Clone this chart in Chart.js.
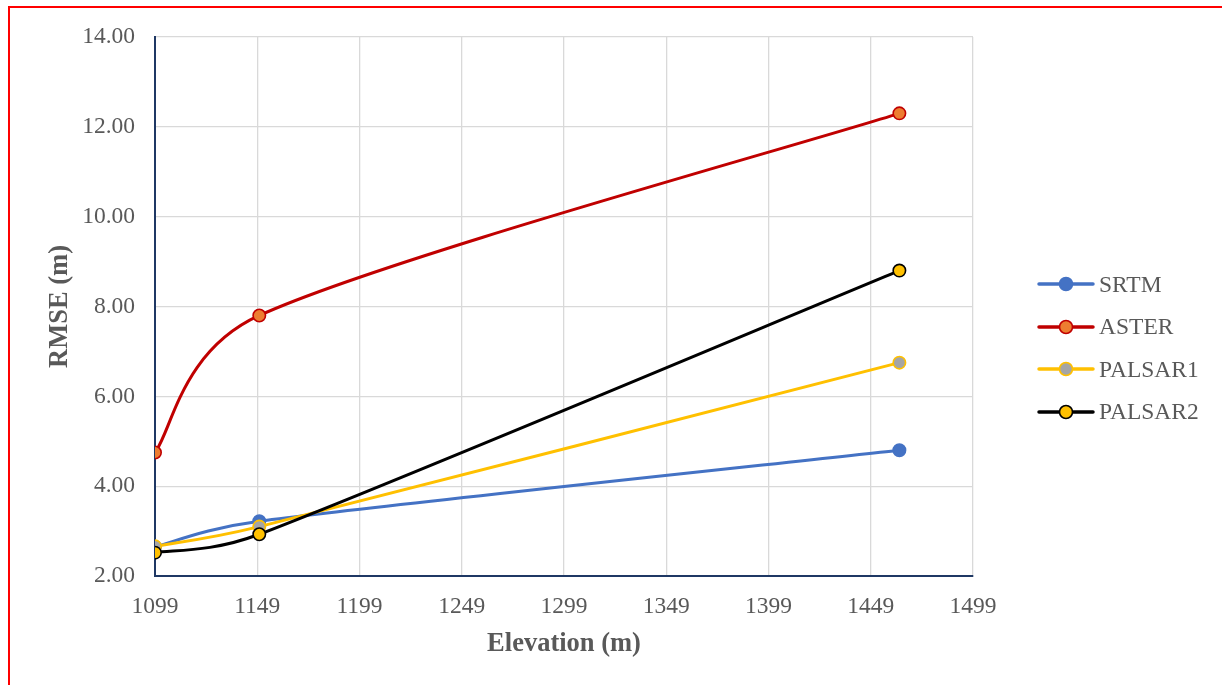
<!DOCTYPE html>
<html>
<head>
<meta charset="utf-8">
<script src="https://cdn.jsdelivr.net/npm/chart.js@4"></script>
<style>
  html, body { margin: 0; padding: 0; background: #fff; overflow: hidden; }
  #wrap { position: relative; width: 1222px; height: 685px; }
  #frame { position: absolute; left: 8px; top: 6px; width: 1400px; height: 900px; border: 2px solid #ff0000; box-sizing: border-box; }
  canvas { position: absolute; left: 0; top: 0; }
  #legend { position: absolute; left: 1037px; top: 263px; font-family: "Liberation Serif", "Times New Roman", serif; font-size: 23.5px; color: #595959; }
  #legend .item { display: flex; align-items: center; height: 42.5px; }
  #legend svg { margin-right: 4px; }
</style>
</head>
<body>
<div id="wrap">
  <div id="frame"></div>
  <canvas id="grafico" width="1222" height="685"></canvas>
  <div id="legend"></div>
</div>
<script>
// dados
const elevacao = [1099, 1150, 1463];
const srtm = [2.65, 3.22, 4.80];
const aster = [4.75, 7.80, 12.30];
const palsar1 = [2.66, 3.10, 6.75];
const palsar2 = [2.52, 2.93, 8.80];
const xTicks = [1099, 1149, 1199, 1249, 1299, 1349, 1399, 1449, 1499];

const FONTE = '"Liberation Serif", "Times New Roman", serif';
const CINZA = '#595959';
const EIXO = '#1f3864';

const series = [
  { label: 'SRTM', data: srtm, line: '#4472c4', fill: '#4472c4', edge: '#4472c4', order: 3 },
  { label: 'ASTER', data: aster, line: '#c00000', fill: '#ed7d31', edge: '#c00000', order: 2 },
  { label: 'PALSAR1', data: palsar1, line: '#ffc000', fill: '#a5a5a5', edge: '#ffc000', order: 1 },
  { label: 'PALSAR2', data: palsar2, line: '#000000', fill: '#ffc000', edge: '#000000', order: 0 }
];

// suavização parecida com a do Excel (Catmull-Rom 1/6, limitada a meia corda)
const suaviza = {
  id: 'suaviza',
  beforeDatasetsDraw(chart) {
    chart.getSortedVisibleDatasetMetas().forEach(meta => {
      meta.dataset.updateControlPoints(chart.chartArea);
      const p = meta.data;
      const n = p.length;
      for (let i = 0; i < n; i++) {
        const a = p[Math.max(i - 1, 0)], b = p[Math.min(i + 1, n - 1)];
        const dx = (b.x - a.x) / 6, dy = (b.y - a.y) / 6;
        const len = Math.hypot(dx, dy) || 1;
        const cIn = i > 0 ? Math.hypot(p[i].x - p[i - 1].x, p[i].y - p[i - 1].y) / 2 : 0;
        const cOut = i < n - 1 ? Math.hypot(p[i + 1].x - p[i].x, p[i + 1].y - p[i].y) / 2 : 0;
        const kIn = Math.min(1, cIn / len), kOut = Math.min(1, cOut / len);
        p[i].cp1x = p[i].x - dx * kIn; p[i].cp1y = p[i].y - dy * kIn;
        p[i].cp2x = p[i].x + dx * kOut; p[i].cp2y = p[i].y + dy * kOut;
      }
    });
  }
};

const ctx = document.getElementById('grafico');
new Chart(ctx, {
  type: 'line',
  data: {
    datasets: series.map(s => ({
      label: s.label,
      data: s.data.map((v, i) => ({ x: elevacao[i], y: v })),
      borderColor: s.line,
      borderWidth: 3,
      backgroundColor: s.fill,
      pointBackgroundColor: s.fill,
      pointBorderColor: s.edge,
      pointBorderWidth: 1.6,
      pointRadius: 6.2,
      tension: 0.4,
      order: s.order
    }))
  },
  options: {
    responsive: false,
    animation: false,
    layout: { padding: { left: 0, top: 37, right: 249, bottom: 0 } },
    plugins: { legend: { display: false }, tooltip: { enabled: false } },
    scales: {
      x: {
        type: 'linear',
        min: 1099, max: 1499,
        afterBuildTicks: sc => { sc.ticks = xTicks.map(v => ({ value: v })); },
        afterFit: sc => { sc.height = 109; },
        grid: { color: c => c.tick && c.tick.value === 1099 ? 'rgba(0,0,0,0)' : '#d9d9d9', lineWidth: 1.3, drawTicks: false },
        border: { color: EIXO, width: 2 },
        ticks: { padding: 17, color: CINZA, font: { family: FONTE, size: 23.5 }, maxRotation: 0, callback: v => String(v) },
        title: { display: true, text: 'Elevation (m)', color: CINZA, font: { family: FONTE, size: 26.5, weight: 'bold' }, padding: { top: 0, bottom: 25 } }
      },
      y: {
        min: 2, max: 14,
        ticks: { stepSize: 2, padding: 20, color: CINZA, font: { family: FONTE, size: 23.5 }, callback: v => v.toFixed(2) },
        afterFit: sc => { sc.width = 155; },
        grid: { color: c => c.tick && c.tick.value === 2 ? 'rgba(0,0,0,0)' : '#d9d9d9', lineWidth: 1.3, drawTicks: false },
        border: { color: EIXO, width: 2 },
        title: { display: true, text: 'RMSE (m)', color: CINZA, font: { family: FONTE, size: 26.5, weight: 'bold' }, padding: { top: 44, bottom: 0 } }
      }
    }
  },
  plugins: [suaviza]
});

// legenda em HTML com linha + marcador
const leg = document.getElementById('legend');
series.forEach(s => {
  const item = document.createElement('div');
  item.className = 'item';
  item.innerHTML = '<svg width="58" height="20"><line x1="2" y1="10" x2="56" y2="10" stroke="' + s.line +
    '" stroke-width="3.5" stroke-linecap="round"/><circle cx="29" cy="10" r="6.5" fill="' + s.fill +
    '" stroke="' + s.edge + '" stroke-width="1.6"/></svg><span>' + s.label + '</span>';
  leg.appendChild(item);
});
</script>
</body>
</html>
